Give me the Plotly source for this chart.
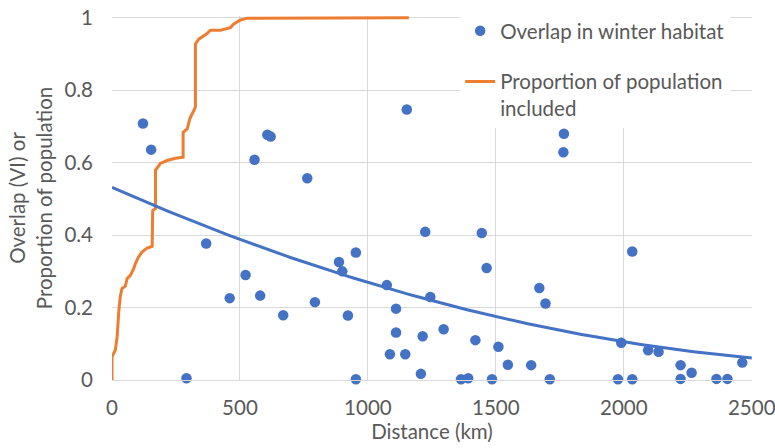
import numpy as np
import plotly.graph_objects as go

# Pairwise overlap in winter habitat (VI) against distance between breeding sites
distance_km = [121, 153, 291, 368, 460, 522, 557, 579, 607, 620, 669, 763, 793,
               887, 900, 922, 953, 953, 1074, 1086, 1110, 1110, 1146, 1152, 1207,
               1214, 1224, 1244, 1296, 1364, 1392, 1420, 1445, 1464, 1485, 1510,
               1547, 1638, 1670, 1694, 1711, 1764, 1766, 1977, 1990, 2033, 2033,
               2095, 2136, 2222, 2222, 2265, 2362, 2405, 2463]
overlap_vi = [0.708, 0.636, 0.005, 0.377, 0.226, 0.290, 0.608, 0.233, 0.677, 0.672,
              0.179, 0.557, 0.215, 0.326, 0.300, 0.178, 0.352, 0.002, 0.262, 0.071,
              0.197, 0.131, 0.071, 0.747, 0.017, 0.121, 0.409, 0.229, 0.140, 0.002,
              0.005, 0.110, 0.406, 0.309, 0.002, 0.092, 0.042, 0.041, 0.254, 0.211,
              0.002, 0.629, 0.680, 0.002, 0.103, 0.355, 0.002, 0.082, 0.078, 0.041,
              0.003, 0.020, 0.003, 0.003, 0.048]

# Cumulative proportion of the population included within a given distance
cum_distance_km = [0, 0, 13, 20, 26, 32, 39, 52, 59, 72, 85, 91, 104, 117, 137, 157,
                   159, 170, 170, 189, 215, 248, 278, 278, 294, 304, 326, 326, 339,
                   369, 385, 424, 463, 476, 502, 529, 1160]
cum_proportion = [0, 0.064, 0.083, 0.119, 0.184, 0.229, 0.253, 0.259, 0.280, 0.289,
                  0.308, 0.321, 0.340, 0.353, 0.364, 0.369, 0.468, 0.473, 0.579,
                  0.598, 0.606, 0.612, 0.615, 0.684, 0.693, 0.721, 0.753, 0.928,
                  0.941, 0.955, 0.966, 0.966, 0.973, 0.983, 0.994, 0.999, 1.0]

x_ticks = [0, 500, 1000, 1500, 2000, 2500]
y_ticks = [0, 0.2, 0.4, 0.6, 0.8, 1]

BLUE = "#4472C4"
ORANGE = "#ED7D31"
GRID = "#D9D9D9"
TEXT = "#595959"
FONT = "Lato"
FS = 20.5

# Second-order polynomial trend of overlap vs distance
coef = np.polyfit(distance_km, overlap_vi, 2)
trend_x = np.linspace(0, 2500, 126)
trend_y = np.polyval(coef, trend_x)

fig = go.Figure()

fig.add_trace(go.Scatter(
    x=distance_km, y=overlap_vi, mode="markers",
    name="Overlap in winter habitat",
    marker=dict(color=BLUE, size=10.5, line=dict(width=0)),
    cliponaxis=False, legendgroup="a",
))
fig.add_trace(go.Scatter(
    x=cum_distance_km, y=cum_proportion, mode="lines",
    name="Proportion of population<br>included",
    line=dict(color=ORANGE, width=3),
    legendgroup="b",
))
fig.add_trace(go.Scatter(
    x=trend_x, y=trend_y, mode="lines",
    line=dict(color=BLUE, width=3),
    showlegend=False, hoverinfo="skip",
))

fig.update_layout(
    width=775, height=448,
    margin=dict(l=112, r=23, t=15, b=68),
    paper_bgcolor="white", plot_bgcolor="white",
    font=dict(family=FONT, size=FS, color=TEXT),
    legend=dict(
        x=0.544, y=1.011, xanchor="left", yanchor="top",
        bgcolor="white", borderwidth=0,
        traceorder="grouped", tracegroupgap=21, valign="top",
        font=dict(family=FONT, size=FS, color=TEXT),
    ),
    xaxis=dict(
        range=[0, 2501], tickvals=x_ticks,
        showgrid=True, gridcolor=GRID, gridwidth=1,
        zeroline=False, showline=True, linecolor=GRID, linewidth=1,
        ticks="", ticklabelstandoff=9, ticklabeloverflow="allow",
        title=dict(text="Distance (km)", standoff=3,
                   font=dict(family=FONT, size=FS, color=TEXT)),
        automargin=False,
    ),
    yaxis=dict(
        range=[0, 1.005], tickvals=y_ticks,
        showgrid=True, gridcolor=GRID, gridwidth=1,
        zeroline=False, showline=False,
        ticks="", ticklabelstandoff=18, ticklabeloverflow="allow",
        title=dict(text="Overlap (VI) or<br>Proportion of population", standoff=6,
                   font=dict(family=FONT, size=FS, color=TEXT)),
        automargin=False,
    ),
)

fig.write_html("out.html")
